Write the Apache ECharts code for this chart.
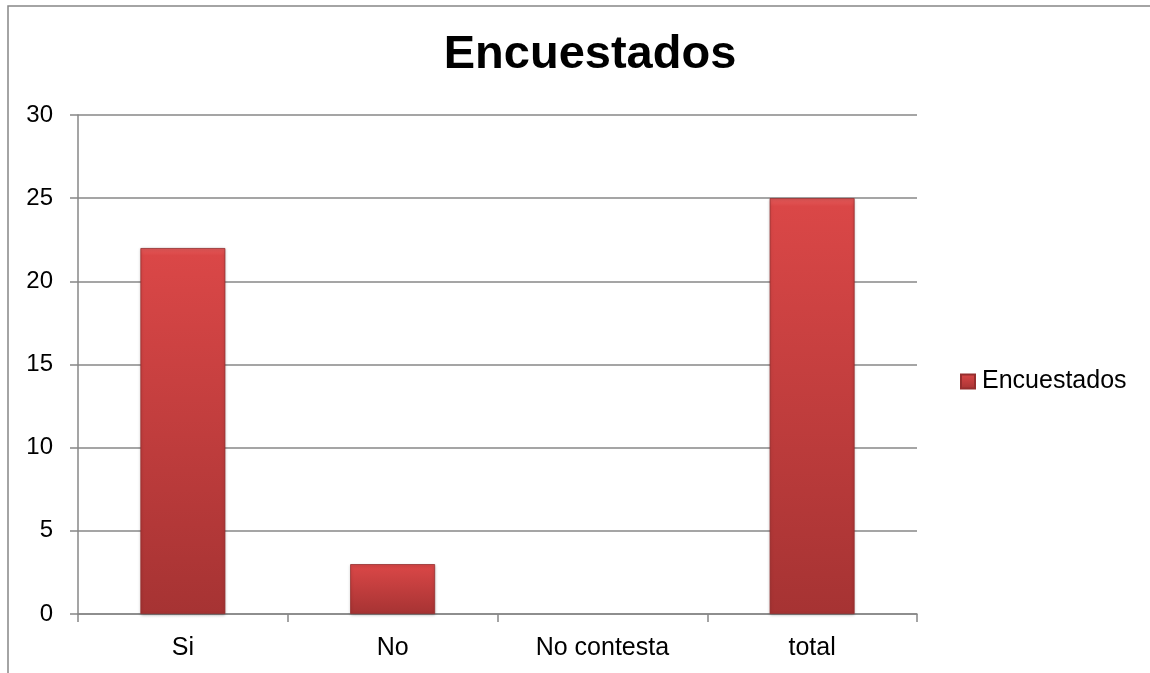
<!DOCTYPE html>
<html>
<head>
<meta charset="utf-8">
<style>
  html, body { margin: 0; padding: 0; background: #ffffff; }
  #chart { width: 1150px; height: 673px; }
</style>
<script src="https://cdn.jsdelivr.net/npm/echarts@6/dist/echarts.min.js"></script>
</head>
<body>
<div id="chart"></div>
<script>
// Survey answers
const categories = ['Si', 'No', 'No contesta', 'total'];
const encuestados = [22, 3, 0, 25];
const seriesName = 'Encuestados';

const chart = echarts.init(document.getElementById('chart'), null, { renderer: 'canvas' });

// Red bar with a light top edge fading to a deep red at the base
const barFill = new echarts.graphic.LinearGradient(0, 0, 0, 1, [
  { offset: 0, color: '#e55a5a' },
  { offset: 0.02, color: '#da4747' },
  { offset: 1, color: '#a63333' }
]);

const gray = '#878787';
const fontFamily = 'Liberation Sans, Arial, sans-serif';

chart.setOption({
  backgroundColor: '#ffffff',
  animation: false,
  title: {
    text: 'Encuestados',
    left: 585,
    textAlign: 'center',
    top: 27,
    textStyle: { fontFamily, fontSize: 47, fontWeight: 'bold', color: '#000000' }
  },
  legend: {
    left: 960,
    top: 369,
    padding: 0,
    icon: 'rect',
    itemWidth: 14,
    itemHeight: 14,
    itemGap: 5,
    textStyle: { fontFamily, fontSize: 25, color: '#000000', padding: [0, 0, 0, 2] },
    data: [seriesName]
  },
  graphic: [{
    type: 'rect',
    shape: { x: 8, y: 6, width: 1300, height: 900 },
    style: { fill: 'none', stroke: gray, lineWidth: 1.5 },
    silent: true,
    z: -1
  }],
  grid: { left: 78, right: 233, top: 115, bottom: 59 },
  xAxis: {
    type: 'category',
    data: categories,
    axisLine: { lineStyle: { color: gray, width: 1.5 } },
    axisTick: { show: true, length: 8, lineStyle: { color: gray, width: 1.5 } },
    axisLabel: { fontFamily, fontSize: 25, color: '#000000', margin: 22 }
  },
  yAxis: {
    type: 'value',
    min: 0,
    max: 30,
    interval: 5,
    axisLine: { show: true, lineStyle: { color: gray, width: 1.5 } },
    axisTick: { show: true, length: 8, lineStyle: { color: gray, width: 1.5 } },
    axisLabel: { fontFamily, fontSize: 24, color: '#000000', margin: 25 },
    splitLine: { lineStyle: { color: gray, width: 1.5 } }
  },
  series: [{
    name: seriesName,
    type: 'bar',
    barWidth: '40.5%',
    data: encuestados.map(v => ({
      value: v,
      itemStyle: v === 0 ? { opacity: 0 } : undefined
    })),
    itemStyle: {
      color: barFill,
      borderColor: '#962e2e',
      borderWidth: 0.8,
      shadowColor: 'rgba(0,0,0,0.25)',
      shadowBlur: 3,
      shadowOffsetY: 1
    }
  }]
});
</script>
</body>
</html>
